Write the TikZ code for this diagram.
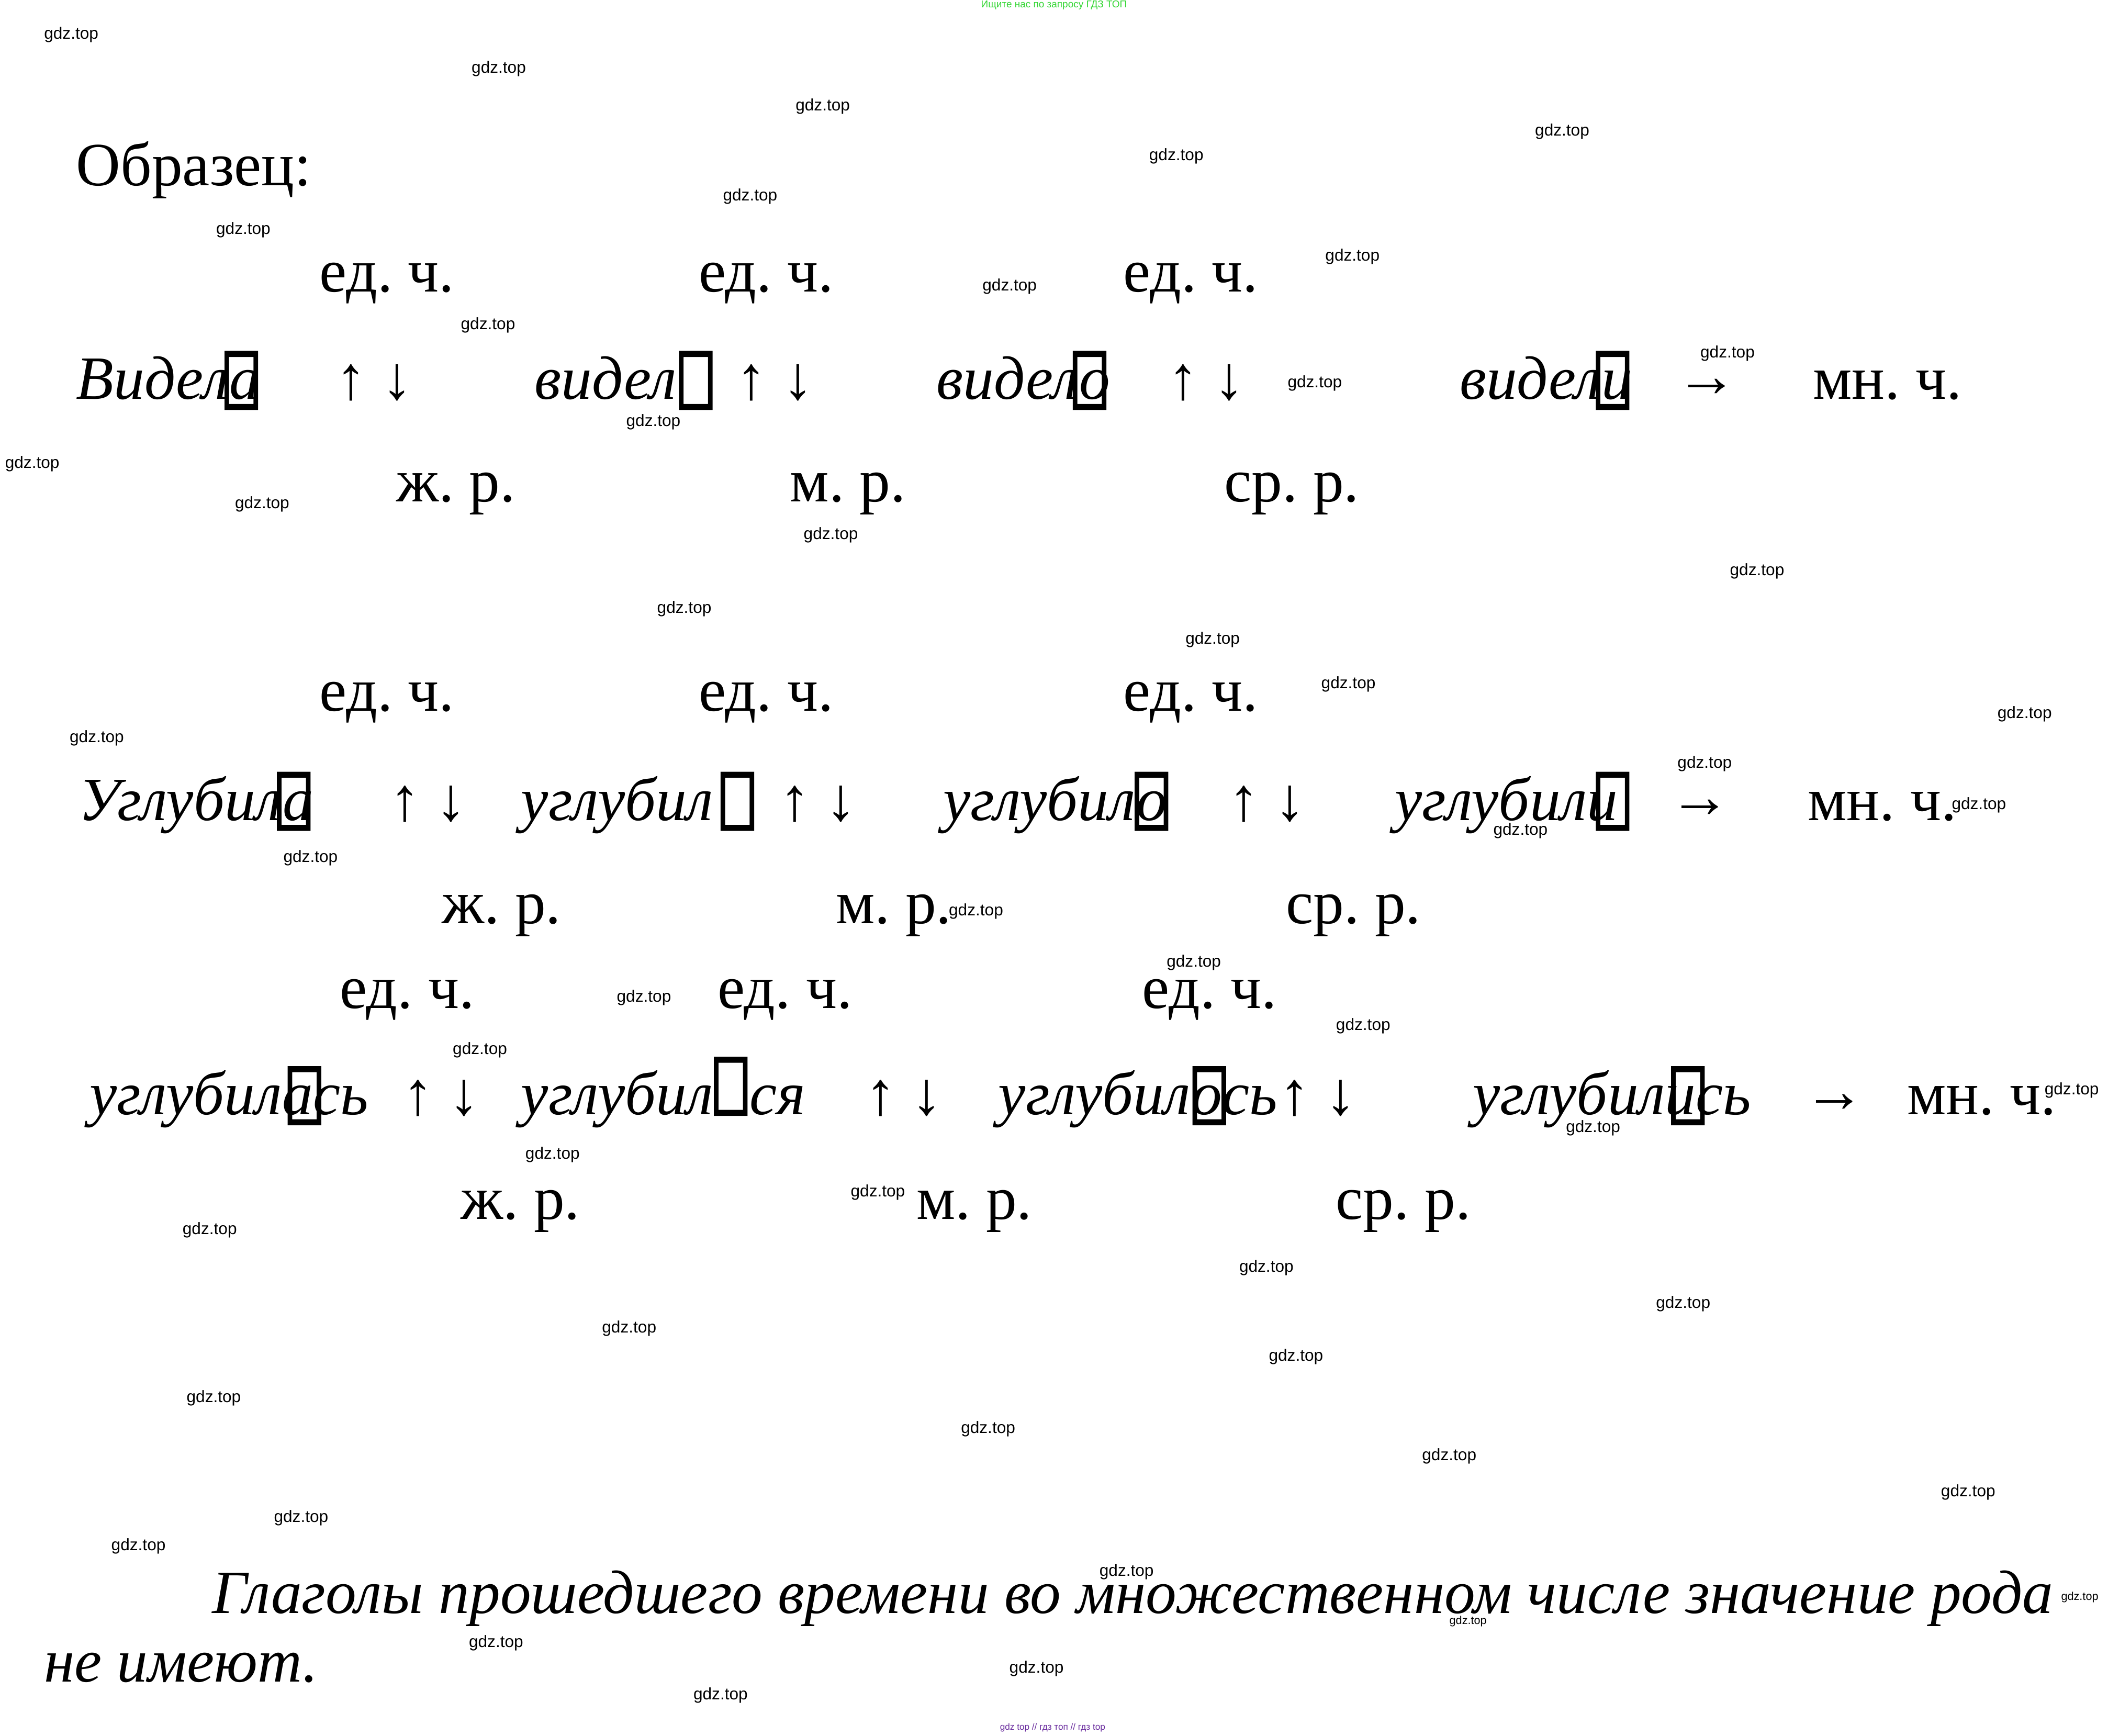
\documentclass[tikz,border=0pt]{standalone}
\usepackage{fontspec}
\setmainfont{Liberation Serif}
\newfontfamily\wmfont{Liberation Sans}
\usepackage{xcolor}
\frenchspacing
\definecolor{wmgreen}{HTML}{33D633}
\definecolor{wmpurple}{HTML}{6A2C9E}
\tikzset{
  lbl/.style={font=\fontsize{13}{15}\selectfont, anchor=base west, inner sep=0pt},
  word/.style={font=\fontsize{13}{15}\selectfont\itshape, anchor=base west, inner sep=0pt},
  wm/.style={font=\wmfont\fontsize{3.5}{4}\selectfont, inner sep=0pt},
  wmsmall/.style={font=\wmfont\fontsize{2.4}{3}\selectfont, inner sep=0pt}
}
% empty glyph box, top-left corner given
\newcommand{\glyphbox}[2]{%
  \fill[even odd rule] (#1,#2) rectangle ++(25,44) (#1+3.4,#2+4.5) rectangle ++(18.2,35);}

\begin{document}
\begin{tikzpicture}[x=0.01cm, y=-0.01cm]
  \fill[white] (0,0) rectangle (1568,1291);
  \useasboundingbox (0,0) rectangle (1568,1291);

  \node[lbl] (title) at (56,138) {Образец:};

  % first block
  \node[lbl] (ed1a) at (237,217) {ед. ч.};
  \node[lbl] (ed1b) at (519,217) {ед. ч.};
  \node[lbl] (ed1c) at (835,217) {ед. ч.};

  \node[word] (w1a) at (56,297) {Видела};
  \node[lbl]  (ud1a) at (249,297) {↑ ↓};
  \node[word] (w1b) at (397,297) {видел};
  \node[lbl]  (ud1b) at (547,297) {↑ ↓};
  \node[word] (w1c) at (696,297) {видело};
  \node[lbl]  (ud1c) at (868,297) {↑ ↓};
  \node[word] (w1d) at (1085,297) {видели};
  \node[lbl]  (to1) at (1246,295) {→};
  \node[lbl]  (pl1) at (1348,297) {мн. ч.};

  \glyphbox{167}{261}
  \glyphbox{505}{261}
  \glyphbox{798}{261}
  \glyphbox{1187}{261}

  \node[lbl] (g1a) at (294,373) {ж. р.};
  \node[lbl] (g1b) at (587,373) {м. р.};
  \node[lbl] (g1c) at (910,373) {ср. р.};

  % second block
  \node[lbl] (ed2a) at (237,529) {ед. ч.};
  \node[lbl] (ed2b) at (519,529) {ед. ч.};
  \node[lbl] (ed2c) at (835,529) {ед. ч.};

  \node[word] (w2a) at (58,610) {Углубила};
  \node[lbl]  (ud2a) at (289,610) {↑ ↓};
  \node[word] (w2b) at (387,610) {углубил};
  \node[lbl]  (ud2b) at (579,610) {↑ ↓};
  \node[word] (w2c) at (701,610) {углубило};
  \node[lbl]  (ud2c) at (913,610) {↑ ↓};
  \node[word] (w2d) at (1037,610) {углубили};
  \node[lbl]  (to2) at (1241,608) {→};
  \node[lbl]  (pl2) at (1344,610) {мн. ч.};

  \glyphbox{206}{574}
  \glyphbox{536}{574}
  \glyphbox{844}{574}
  \glyphbox{1187}{574}

  \node[lbl] (g2a) at (328,687) {ж. р.};
  \node[lbl] (g2b) at (621,687) {м. р.};
  \node[lbl] (g2c) at (956,687) {ср. р.};

  % third block
  \node[lbl] (ed3a) at (252,750) {ед. ч.};
  \node[lbl] (ed3b) at (533,750) {ед. ч.};
  \node[lbl] (ed3c) at (849,750) {ед. ч.};

  \node[word] (w3a) at (66,829) {углубилась};
  \node[lbl]  (ud3a) at (299,829) {↑ ↓};
  \node[word] (w3b) at (387,829) {углубил};
  \node[word] (w3e) at (557,829) {ся};
  \node[lbl]  (ud3b) at (643,829) {↑ ↓};
  \node[word] (w3c) at (742,829) {углубилось};
  \node[lbl]  (ud3c) at (951,829) {↑ ↓};
  \node[word] (w3d) at (1095,829) {углубились};
  \node[lbl]  (to3) at (1341,827) {→};
  \node[lbl]  (pl3) at (1418,829) {мн. ч.};

  \glyphbox{214}{793}
  \glyphbox{531}{786}
  \glyphbox{887}{793}
  \glyphbox{1243}{793}

  \node[lbl] (g3a) at (342,907) {ж. р.};
  \node[lbl] (g3b) at (681,907) {м. р.};
  \node[lbl] (g3c) at (993,907) {ср. р.};

  % conclusion
  \node[word] (rule1) at (157,1200) {Глаголы прошедшего времени во множественном числе значение рода};
  \node[word] (rule2) at (32,1251) {не имеют.};

  % site marks
  \foreach \x/\y [count=\i] in {53/26, 371/51, 612/79, 1162/98, 875/116, 558/146, 181/171,
      1006/191, 751/213, 363/242, 1285/263, 978/285, 486/314, 24/345, 195/375, 618/398,
      1307/425, 509/453, 902/476, 1003/509, 1506/531, 72/549, 1268/568, 1472/599,
      1131/618, 231/638, 726/678, 888/716, 479/742, 1014/763, 357/781, 1541/811,
      1185/839, 411/859, 653/887, 156/915, 942/943, 1252/970, 468/988, 964/1009,
      159/1040, 735/1063, 1078/1083, 1464/1110, 224/1129, 103/1150, 838/1169,
      369/1222, 771/1241, 536/1261}
    \node[wm] (wm\i) at (\x,\y) {gdz.top};
  \node[wmsmall] (wms1) at (1547,1188) {gdz.top};
  \node[wmsmall] (wms2) at (1092,1206) {gdz.top};

  \node[font=\wmfont\fontsize{2.1}{2.5}\selectfont, text=wmgreen, inner sep=0pt] (top) at (784,4) {Ищите нас по запросу ГДЗ ТОП};
  \node[font=\wmfont\fontsize{1.9}{2.3}\selectfont, text=wmpurple, inner sep=0pt] (foot) at (783,1285) {gdz top // гдз топ // гдз top};
\end{tikzpicture}
\end{document}
